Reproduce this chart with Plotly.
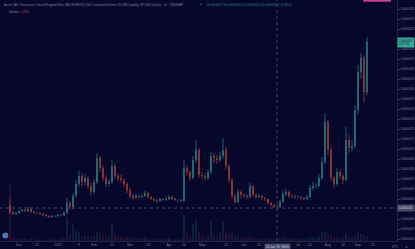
import plotly.graph_objects as go

# ---- data (prices in units of 1e-7 WETH) ----
opens = [4.4, 3.7, 3.5, 3.6, 3.8, 3.9, 3.8, 4.0, 3.7, 3.6, 3.6, 3.5, 3.4, 3.3, 3.2, 3.3, 3.3, 3.4, 3.4, 3.6,
         4.6, 4.2, 5.3, 6.5, 7.3, 6.7, 7.1, 6.3, 5.7, 6.7, 9.1, 8.1, 7.1, 6.5, 6.7, 8.3, 7.3, 7.1, 6.9, 6.5,
         5.9, 5.3, 5.1, 5.3, 5.2, 5.3, 5.6, 5.2, 5.0, 4.9, 4.8, 5.0, 4.9, 5.0, 5.2, 5.0, 4.9, 4.9, 4.8, 8.1,
         7.7, 7.1, 8.9, 9.9, 7.4, 7.3, 7.1, 7.7, 9.3, 9.1, 8.9, 9.3, 9.9, 8.3, 6.9, 5.3, 4.7, 5.7, 5.4, 5.3,
         5.2, 6.3, 5.4, 5.2, 5.3, 5.1, 5.0, 4.6, 4.4, 4.2, 4.2, 4.7, 5.5, 5.7, 5.3, 5.3, 5.2, 5.2, 5.1, 5.0,
         5.2, 6.1, 6.3, 6.3, 7.1, 8.7, 12.7, 9.9, 7.1, 6.5, 7.7, 7.3, 6.9, 10.9, 10.1, 10.3, 13.9, 17.7, 19.1, 15.7]
highs = [5.0, 3.8, 3.7, 3.9, 4.0, 4.0, 4.2, 4.1, 3.8, 3.7, 3.7, 3.6, 3.5, 3.4, 3.4, 3.4, 3.5, 3.5, 3.8, 5.1,
         4.8, 5.6, 6.9, 7.8, 7.6, 7.5, 7.3, 6.6, 7.0, 9.6, 9.3, 8.4, 7.4, 7.0, 8.9, 8.6, 7.6, 7.4, 7.1, 6.7,
         6.1, 5.5, 5.5, 5.4, 5.5, 5.8, 5.7, 5.3, 5.1, 5.0, 5.1, 5.1, 5.2, 5.4, 5.3, 5.1, 5.0, 5.0, 8.9, 8.4,
         7.9, 9.3, 10.9, 10.1, 7.7, 7.6, 8.0, 9.7, 9.6, 9.4, 9.7, 11.1, 10.2, 8.5, 7.1, 5.5, 6.0, 5.9, 5.6, 5.5,
         6.6, 6.4, 5.6, 5.5, 5.4, 5.2, 5.1, 4.7, 4.5, 4.4, 4.9, 5.8, 6.0, 5.8, 5.5, 5.4, 5.4, 5.3, 5.2, 5.4,
         6.4, 6.7, 6.6, 7.5, 9.2, 13.6, 12.9, 10.2, 7.3, 8.1, 8.0, 7.5, 12.2, 11.4, 10.9, 14.4, 18.4, 19.6, 19.3, 21.2]
lows = [3.5, 3.4, 3.4, 3.5, 3.7, 3.7, 3.7, 3.6, 3.5, 3.5, 3.4, 3.3, 3.2, 3.1, 3.1, 3.2, 3.2, 3.3, 3.3, 3.5,
        3.9, 4.0, 5.1, 6.2, 6.3, 6.4, 6.0, 5.3, 5.5, 6.5, 7.7, 6.8, 6.2, 6.2, 6.5, 7.0, 6.8, 6.6, 6.2, 5.6,
        5.1, 4.9, 5.0, 5.0, 5.1, 5.2, 5.1, 4.9, 4.7, 4.6, 4.7, 4.8, 4.8, 4.9, 4.9, 4.8, 4.7, 4.7, 4.7, 7.3,
        6.8, 7.0, 8.6, 7.1, 7.0, 6.8, 6.9, 7.5, 8.6, 8.5, 8.7, 9.0, 8.0, 6.6, 5.0, 4.5, 4.6, 5.1, 5.1, 5.0,
        5.1, 5.2, 5.0, 5.1, 4.9, 4.8, 4.5, 4.3, 4.1, 4.1, 4.1, 4.6, 5.3, 5.1, 5.1, 5.0, 5.1, 4.9, 4.9, 4.9,
        5.1, 5.9, 6.0, 6.2, 6.9, 8.5, 9.4, 6.8, 6.1, 6.3, 7.0, 6.5, 6.8, 9.6, 9.8, 10.0, 13.5, 17.0, 14.6, 15.4]
closes = [3.7, 3.5, 3.6, 3.8, 3.9, 3.8, 4.0, 3.7, 3.6, 3.6, 3.5, 3.4, 3.3, 3.2, 3.3, 3.3, 3.4, 3.4, 3.6, 4.6,
          4.2, 5.3, 6.5, 7.3, 6.7, 7.1, 6.3, 5.7, 6.7, 9.1, 8.1, 7.1, 6.5, 6.7, 8.3, 7.3, 7.1, 6.9, 6.5, 5.9,
          5.3, 5.1, 5.3, 5.2, 5.3, 5.6, 5.2, 5.0, 4.9, 4.8, 5.0, 4.9, 5.0, 5.2, 5.0, 4.9, 4.9, 4.8, 8.1, 7.7,
          7.1, 8.9, 9.9, 7.4, 7.3, 7.1, 7.7, 9.3, 9.1, 8.9, 9.3, 9.9, 8.3, 6.9, 5.3, 4.7, 5.7, 5.4, 5.3, 5.2,
          6.3, 5.4, 5.2, 5.3, 5.1, 5.0, 4.6, 4.4, 4.2, 4.2, 4.7, 5.5, 5.7, 5.3, 5.3, 5.2, 5.2, 5.1, 5.0, 5.2,
          6.1, 6.3, 6.3, 7.1, 8.7, 12.7, 9.9, 7.1, 6.5, 7.7, 7.3, 6.9, 10.9, 10.1, 10.3, 13.9, 17.7, 19.1, 15.7, 20.7]
volumes = [100, 6, 4, 3, 5, 4, 3, 5, 3, 3, 2, 3, 2, 3, 2, 3, 2, 4, 6, 40,
           12, 30, 18, 14, 8, 10, 9, 8, 10, 16, 12, 9, 7, 8, 31, 12, 8, 7, 6, 8,
           7, 5, 6, 4, 5, 7, 5, 4, 4, 3, 4, 3, 4, 5, 3, 3, 4, 3, 45, 14,
           10, 28, 36, 16, 8, 7, 9, 34, 12, 9, 14, 33, 15, 12, 14, 10, 9, 6, 5, 4,
           8, 6, 4, 4, 3, 4, 5, 4, 5, 4, 6, 8, 6, 5, 4, 4, 3, 3, 4, 4,
           7, 6, 5, 8, 15, 17, 13, 10, 7, 6, 5, 5, 12, 8, 7, 10, 14, 12, 10, 9]
candle_idx = list(range(len(closes)))

time_tick_idx = [3, 9, 16, 23, 28, 34, 40, 46, 53, 58, 64, 72, 78, 83, 96, 100, 106, 111, 116, 121]
time_tick_labels = ["Dec", "12", "2023", "9", "Feb", "13", "Mar", "13", "Apr", "10",
                    "May", "15", "Jun", "12", "Jul", "10", "Aug", "14", "Sep", "11"]
price_ticks = list(range(1, 25))
price_unit = 1e-7

crosshair_idx = 89
crosshair_price = 4.1
crosshair_time_label = "26 Jun '23  08:00"
countdown_label = "01:27:46"

title_text = ("Active DAO Governance Token/Wrapped Ether (ARCH/WETH) USD Calculated Volume: $1.39M "
              "Liquidity: $7.54M Chart(s) · 4h · UNISWAP")

# ---- styles ----
BG = "#07062b"
UP = "#2a8886"
DOWN = "#a8443d"
TXT = "#7c809a"
FONT = "Liberation Sans"

fig = go.Figure()

# volume
vol_colors = ["rgba(42,136,134,0.38)" if c >= o else "rgba(168,68,61,0.38)"
              for o, c in zip(opens, closes)]
fig.add_trace(go.Bar(x=candle_idx, y=volumes, marker=dict(color=vol_colors, line=dict(width=0)),
                     yaxis="y2", width=0.35, hoverinfo="skip"))


# candles drawn as thin wick + body segments
def segments(direction_up, lo_list, hi_list):
    xs, ys = [], []
    for i, o, c, lo, hi in zip(candle_idx, opens, closes, lo_list, hi_list):
        if (c >= o) == direction_up:
            xs += [i, i, None]
            ys += [lo, hi, None]
    return xs, ys


body_lo = [min(o, c) for o, c in zip(opens, closes)]
body_hi = [max(o, c) for o, c in zip(opens, closes)]
for up, col in ((True, UP), (False, DOWN)):
    wx, wy = segments(up, lows, highs)
    fig.add_trace(go.Scatter(x=wx, y=wy, mode="lines", line=dict(color=col, width=0.7),
                             hoverinfo="skip", yaxis="y"))
    bx, by = segments(up, body_lo, body_hi)
    fig.add_trace(go.Scatter(x=bx, y=by, mode="lines", line=dict(color=col, width=1.3),
                             hoverinfo="skip", yaxis="y"))

# hide price ticks hidden under the highlighted labels
last = len(closes) - 1
label_prices = [closes[last], crosshair_price]
shown_ticks = [p for p in price_ticks if all(abs(p - lp) > 0.6 for lp in label_prices)]
price_labels = [f"{p * price_unit:.8f}" for p in shown_ticks]

fig.update_layout(
    width=415, height=249,
    margin=dict(l=0, r=18, t=0, b=8),
    paper_bgcolor=BG, plot_bgcolor=BG,
    showlegend=False,
    font=dict(family=FONT, size=3, color=TXT),
    xaxis=dict(range=[-3.33, 129], showgrid=False, zeroline=False,
               tickmode="array", tickvals=time_tick_idx, ticktext=time_tick_labels,
               tickfont=dict(size=3.3, color=TXT), ticks="", showline=True, linecolor="#232645",
               linewidth=1),
    yaxis=dict(range=[0.8, 24.9], side="right", showgrid=False, zeroline=False,
               tickmode="array", tickvals=shown_ticks, ticktext=price_labels,
               tickfont=dict(size=2.6, color=TXT), ticks="outside", ticklen=2, tickcolor="#35385a",
               showline=True, linecolor="#232645", linewidth=1),
    yaxis2=dict(range=[0, 415], overlaying="y", visible=False),
)

# crosshair
fig.add_shape(type="line", xref="x", yref="paper", x0=crosshair_idx, x1=crosshair_idx, y0=0, y1=1,
              line=dict(color="#44486a", width=1, dash="dot"))
fig.add_shape(type="line", xref="paper", yref="y", x0=0, x1=1, y0=crosshair_price, y1=crosshair_price,
              line=dict(color="#44486a", width=1, dash="dot"))

# top pink bar
fig.add_shape(type="rect", xref="paper", yref="paper", x0=0.915, x1=0.985, y0=0.993, y1=1.0,
              line=dict(width=0), fillcolor="#c2449a")

# header texts
fig.add_annotation(xref="paper", yref="paper", x=0.004, y=0.995, xanchor="left", yanchor="top",
                   text=title_text, showarrow=False, font=dict(size=2.9, color=TXT))
chg = closes[last] - opens[last]
ohlc_text = (f"O{opens[last]*price_unit:.8f} H{highs[last]*price_unit:.8f} "
             f"L{lows[last]*price_unit:.8f} C{closes[last]*price_unit:.8f} "
             f"({chg / opens[last] * 100:+.2f}%)")
fig.add_annotation(xref="paper", yref="paper", x=0.499, y=1.0, xanchor="left", yanchor="top",
                   text="●", showarrow=False, font=dict(size=3.0, color="#3fb07a"))
fig.add_annotation(xref="paper", yref="paper", x=0.514, y=0.995, xanchor="left", yanchor="top",
                   text=ohlc_text, showarrow=False, font=dict(size=2.9, color=UP))
fig.add_annotation(xref="paper", yref="paper", x=0.004, y=0.968, xanchor="left", yanchor="top",
                   text=f"⌄  Volume  <span style='color:{DOWN}'>{volumes[last] * 0.12:.2f}M</span>",
                   showarrow=False, font=dict(size=3.0, color=TXT))

# last price label
fig.add_annotation(xref="paper", yref="y", x=1.0, y=closes[last], xanchor="left", yanchor="middle",
                   text=f"{closes[last]*price_unit:.8f}<br>{countdown_label}", showarrow=False,
                   bgcolor="#3aa59b", borderpad=1, font=dict(size=2.6, color="#0b1a2a"), align="left")
# crosshair labels
fig.add_annotation(xref="paper", yref="y", x=1.0, y=crosshair_price, xanchor="left", yanchor="middle",
                   text=f"{crosshair_price*price_unit:.8f}", showarrow=False,
                   bgcolor="#474a66", borderpad=1, font=dict(size=2.6, color="#d0d3e0"))
fig.add_annotation(xref="x", yref="paper", x=crosshair_idx, y=-0.008, xanchor="center", yanchor="top",
                   text=crosshair_time_label, showarrow=False,
                   bgcolor="#474a66", borderpad=1, font=dict(size=3.0, color="#d0d3e0"))

# bottom-right controls and logo
fig.add_annotation(xref="paper", yref="paper", x=0.995, y=-0.01, xanchor="center", yanchor="top",
                   text="UTC", showarrow=False, font=dict(size=3.0, color=TXT))
fig.add_annotation(xref="paper", yref="paper", x=1.025, y=-0.01, xanchor="center", yanchor="top",
                   text="⚙", showarrow=False, font=dict(size=3.4, color=TXT))
fig.add_shape(type="circle", xref="paper", yref="paper", x0=0.006, x1=0.021, y0=0.01, y1=0.035,
              line=dict(width=0), fillcolor="#4d78a8")

fig.write_html("out.html")
